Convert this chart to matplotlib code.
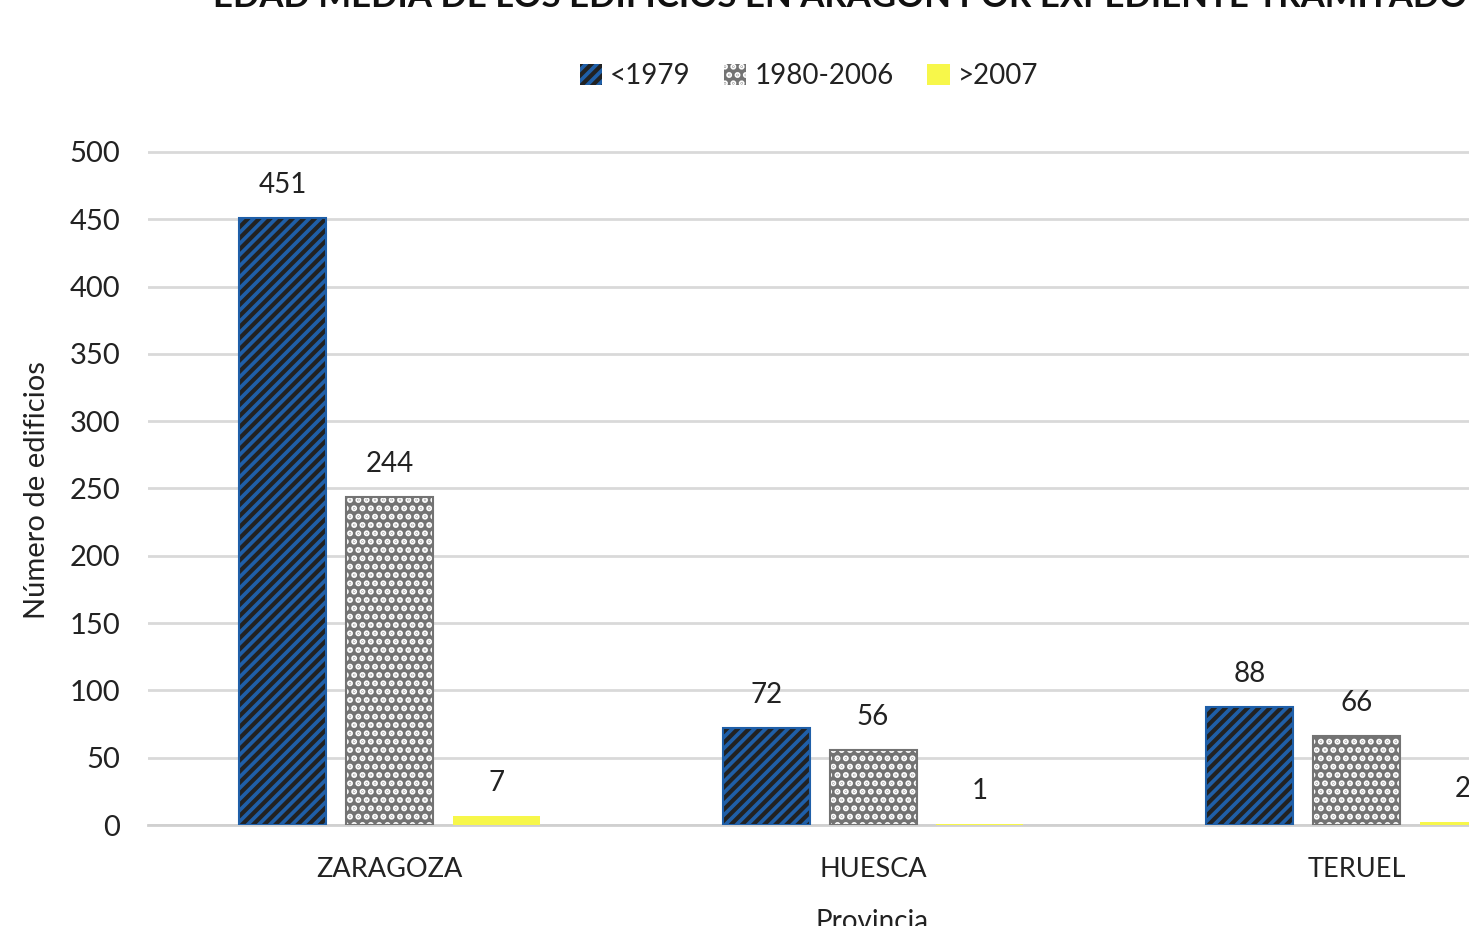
import numpy as np
import matplotlib
matplotlib.use("Agg")
import matplotlib.pyplot as plt
from matplotlib.patches import Patch

plt.rcParams['font.family'] = ['Lato', 'DejaVu Sans']
plt.rcParams['hatch.linewidth'] = 3.0

# datos
provincias = ['ZARAGOZA', 'HUESCA', 'TERUEL']
series = ['<1979', '1980-2006', '>2007']
antes_1979 = [451, 72, 88]
entre_1980_2006 = [244, 56, 66]
despues_2007 = [7, 1, 2]

valores = [antes_1979, entre_1980_2006, despues_2007]
caras = ['#1f5fa8', '#737373', '#f7f74a']
tramas = ['///', '..', None]
tramas_color = ['#222222', '#ffffff', None]

W, H = 1469, 926
fig = plt.figure(figsize=(W / 100, H / 100), dpi=100)
ymax = 510
ax = fig.add_axes([148 / W, 101 / H, 1450 / W, (673 * ymax / 500) / H])

x = np.arange(len(provincias))
paso = 0.221
ancho = 0.18

for i, vals in enumerate(valores):
    pos = x + (i - 1) * paso
    if tramas[i]:
        ax.bar(pos, vals, ancho, color=caras[i], edgecolor=tramas_color[i],
               hatch=tramas[i], linewidth=0, zorder=3)
        ax.bar(pos, vals, ancho, facecolor='none', edgecolor=caras[i],
               linewidth=1.5, zorder=4)
    else:
        ax.bar(pos, vals, ancho, color=caras[i], linewidth=0, zorder=3)
    for xp, v in zip(pos, vals):
        ax.annotate(str(v), (xp, v), xytext=(0, 18), textcoords='offset points',
                    ha='center', va='baseline', fontsize=20, color='#222222',
                    annotation_clip=False)

ax.set_xlim(-0.5, 2.5)
ax.set_ylim(0, ymax)
ax.set_yticks(np.arange(0, 501, 50))
ax.set_xticks(x)
ax.set_xticklabels(provincias)
ax.tick_params(axis='y', length=0, pad=20, labelsize=21, labelcolor='#222222')
ax.tick_params(axis='x', length=0, pad=23, labelsize=19.5, labelcolor='#222222')
ax.yaxis.grid(True, color='#d9d9d9', linewidth=2, zorder=0)
ax.set_axisbelow(True)
for s in ['top', 'right', 'left']:
    ax.spines[s].set_visible(False)
ax.spines['bottom'].set_color('#d0d0d0')
ax.spines['bottom'].set_linewidth(2)

fig.text(37 / W, 1 - 490 / H, 'Número de edificios', rotation=90,
         ha='center', va='center', fontsize=21, color='#222222')
fig.text(872 / W, 1 - 930 / H, 'Provincia', ha='center', va='baseline',
         fontsize=20, color='#222222')
fig.text(213 / W, 1 - 7 / H,
         'EDAD MEDIA DE LOS EDIFICIOS EN ARAGÓN POR EXPEDIENTE TRAMITADO',
         ha='left', va='baseline', fontsize=25, fontweight='bold', color='#111111')

handles = [
    Patch(facecolor=caras[0], edgecolor=tramas_color[0], hatch=tramas[0], linewidth=0),
    Patch(facecolor=caras[1], edgecolor=tramas_color[1], hatch=tramas[1], linewidth=0),
    Patch(facecolor=caras[2], edgecolor=caras[2], linewidth=0),
]
fig.legend(handles, series, loc='center', bbox_to_anchor=(809 / W, 1 - 76 / H),
           ncol=3, frameon=False, fontsize=20, handlelength=0.8, handleheight=0.8,
           handletextpad=0.3, columnspacing=1.2, labelcolor='#222222')

fig.savefig('out.png', dpi=100)
